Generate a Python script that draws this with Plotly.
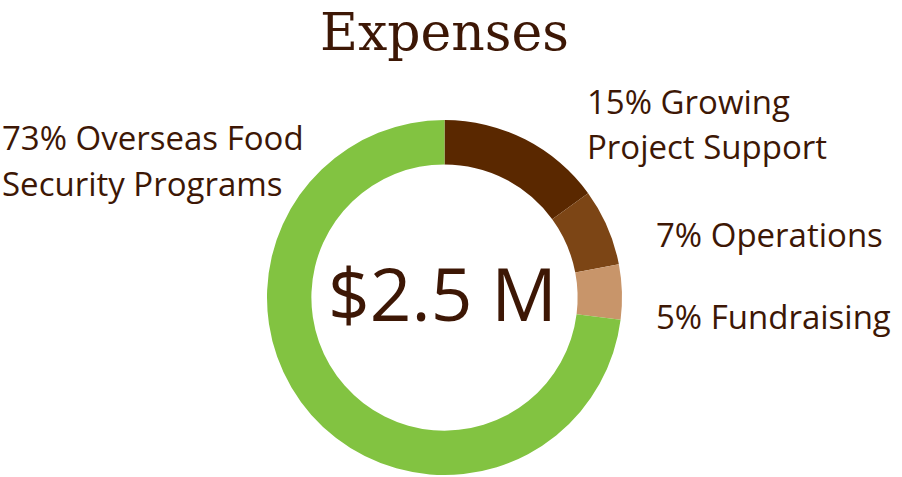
import plotly.graph_objects as go

categories = ["Growing Project Support", "Operations", "Fundraising", "Overseas Food Security Programs"]
values = [15, 7, 5, 73]
colors = ["#5a2800", "#7c4515", "#c8956a", "#82c341"]
label_lines = [
    ["15% Growing", "Project Support"],
    ["7% Operations"],
    ["5% Fundraising"],
    ["73% Overseas Food", "Security Programs"],
]
center_text = "$2.5 M"
title_text = "Expenses"

W, H = 902, 477
TXT = "#3d1705"
FONT = "Open Sans"


def px(x):
    return x / W


def py(y):
    return 1 - y / H


fig = go.Figure(go.Pie(
    labels=categories, values=values, hole=0.75, sort=False, direction="clockwise",
    rotation=0, marker=dict(colors=colors, line=dict(width=0)),
    textinfo="none", hoverinfo="label+percent", showlegend=False,
    domain=dict(x=[px(267), px(622)], y=[py(475), py(120)]),
))

label_pos = [(585, 101, 45), (654, 234, 0), (654, 316, 0), (0, 137, 46)]
label_size = [33, 33, 33, 33]
ann = []
for lines, (x, y, gap), fs in zip(label_lines, label_pos, label_size):
    for i, ln in enumerate(lines):
        ann.append(dict(text=ln, x=px(x), y=py(y + i * gap), xref="paper", yref="paper",
                        xanchor="left", yanchor="middle", showarrow=False,
                        font=dict(family=FONT, size=fs, color=TXT)))
ann.append(dict(text=center_text, x=px(442), y=py(292), xref="paper", yref="paper",
                xanchor="center", yanchor="middle", showarrow=False,
                font=dict(family=FONT, size=73, color=TXT)))
ann.append(dict(text=title_text, x=px(444), y=py(32), xref="paper", yref="paper",
                xanchor="center", yanchor="middle", showarrow=False,
                font=dict(family="DejaVu Serif", size=52, color=TXT)))

fig.update_layout(width=W, height=H, margin=dict(l=0, r=0, t=0, b=0),
                  paper_bgcolor="white", plot_bgcolor="white", annotations=ann)
fig.write_html("out.html", config={"displayModeBar": False},
               post_script="document.body.style.margin='0';")
